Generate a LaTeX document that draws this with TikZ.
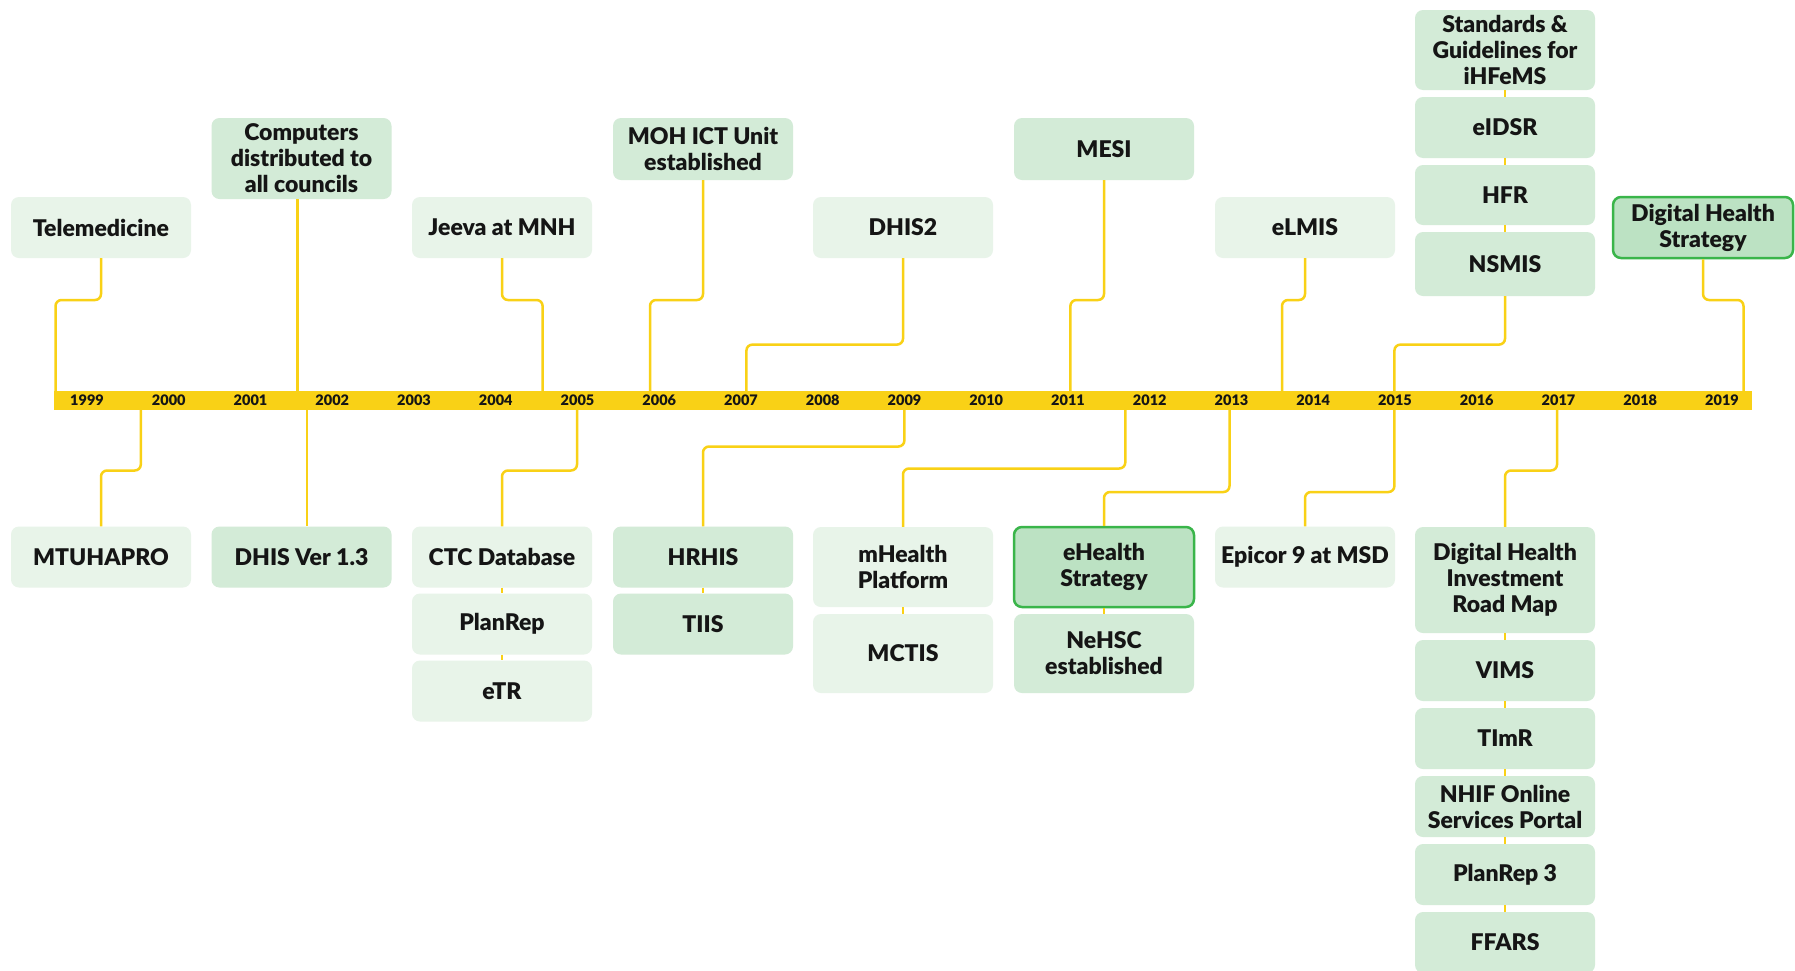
\documentclass[tikz,border=0pt]{standalone}
\usepackage{fontspec}
\setmainfont{Lato}[BoldFont={Lato Black}]
\usepackage{tikz}
\usepackage{xcolor}
\definecolor{barYellow}{HTML}{F9D116}
\definecolor{lightGreen}{HTML}{E8F4E9}
\definecolor{midGreen}{HTML}{D3EBD7}
\definecolor{keyGreen}{HTML}{BCE2C3}
\definecolor{keyEdge}{HTML}{3AB54A}
\definecolor{inkBlack}{HTML}{151515}

\begin{document}
\begin{tikzpicture}[x=1pt,y=-1pt,
  event/.style={rectangle,rounded corners=8pt,minimum width=180pt,align=center,inner sep=2pt,
    text=inkBlack,font=\fontsize{23}{26}\selectfont\bfseries},
  light node/.style={event,fill=lightGreen},
  mid node/.style={event,fill=midGreen},
  key node/.style={event,fill=keyGreen,draw=keyEdge,line width=2.5pt},
  link/.style={draw=barYellow,line width=2.5pt,rounded corners=6pt},
  year/.style={font=\fontsize{14.5}{16}\selectfont\bfseries,text=inkBlack}]

  \useasboundingbox[fill=white] (0,0) rectangle (1795,970);

  \node[light node,minimum height=61pt] (tele) at (101,227.5) {Telemedicine};
  \node[mid node,minimum height=81pt] (comp) at (301.5,158.5) {Computers\\distributed to\\all councils};
  \node[light node,minimum height=61pt] (jeeva) at (502,227.5) {Jeeva at MNH};
  \node[mid node,minimum height=62pt] (moh) at (703,149) {MOH ICT Unit\\established};
  \node[light node,minimum height=61pt] (dhis2) at (903,227.5) {DHIS2};
  \node[mid node,minimum height=62pt] (mesi) at (1104,149) {MESI};
  \node[light node,minimum height=61pt] (elmis) at (1305,227.5) {eLMIS};
  \node[mid node,minimum height=80pt] (stds) at (1505,50) {Standards \&\\Guidelines for\\iHFeMS};
  \node[mid node,minimum height=61pt] (eidsr) at (1505,127.5) {eIDSR};
  \node[mid node,minimum height=60pt] (hfr) at (1505,195) {HFR};
  \node[mid node,minimum height=64pt] (nsmis) at (1505,264) {NSMIS};
  \node[key node,minimum height=61pt] (dhs) at (1703,227.5) {Digital Health\\Strategy};

  \node[light node,minimum height=61pt] (mtuha) at (101,557) {MTUHAPRO};
  \node[mid node,minimum height=61pt] (dhis13) at (301.5,557) {DHIS Ver 1.3};
  \node[light node,minimum height=61pt] (ctc) at (502,557) {CTC Database};
  \node[light node,minimum height=61pt] (planrep) at (502,624) {PlanRep};
  \node[light node,minimum height=61pt] (etr) at (502,691) {eTR};
  \node[mid node,minimum height=61pt] (hrhis) at (703,557) {HRHIS};
  \node[mid node,minimum height=61pt] (tiis) at (703,624) {TIIS};
  \node[light node,minimum height=80pt] (mhealth) at (903,567) {mHealth\\Platform};
  \node[light node,minimum height=79pt] (mctis) at (903,653.5) {MCTIS};
  \node[key node,minimum height=80pt] (ehealth) at (1104,567) {eHealth\\Strategy};
  \node[mid node,minimum height=79pt] (nehsc) at (1104,653.5) {NeHSC\\established};
  \node[light node,minimum height=61pt] (epicor) at (1305,557) {Epicor 9 at MSD};
  \node[mid node,minimum height=106pt] (dhir) at (1505,580) {Digital Health\\Investment\\Road Map};
  \node[mid node,minimum height=61pt] (vims) at (1505,670.5) {VIMS};
  \node[mid node,minimum height=61pt] (timr) at (1505,738.5) {TImR};
  \node[mid node,minimum height=61pt] (nhif) at (1505,806.5) {NHIF Online\\Services Portal};
  \node[mid node,minimum height=61pt] (plan3) at (1505,874.5) {PlanRep 3};
  \node[mid node,minimum height=61pt] (ffars) at (1505,942.5) {FFARS};

  \coordinate (a1) at (55.5,391);
  \coordinate (a2) at (297.6,391);
  \coordinate (a3) at (542.6,391);
  \coordinate (a4) at (650,391);
  \coordinate (a5) at (746.4,391);
  \coordinate (a6) at (1070.4,391);
  \coordinate (a7) at (1282,391);
  \coordinate (a8) at (1394.4,391);
  \coordinate (a9) at (1743.5,391);
  \coordinate (b1) at (140.8,410);
  \coordinate (b2) at (306.8,410);
  \coordinate (b3) at (577,410);
  \coordinate (b4) at (904.4,410);
  \coordinate (b5) at (1125.3,410);
  \coordinate (b6) at (1229.5,410);
  \coordinate (b7) at (1394.4,410);
  \coordinate (b8) at (1557,410);

  \draw[link] (tele.south) -- (tele.south |- 0,300) -| (a1);
  \draw[link] (comp.south -| a2) -- (a2);
  \draw[link] (jeeva.south) -- (jeeva.south |- 0,300) -| (a3);
  \draw[link] (moh.south) -- (moh.south |- 0,300) -| (a4);
  \draw[link] (dhis2.south) -- (dhis2.south |- 0,344.6) -| (a5);
  \draw[link] (mesi.south) -- (mesi.south |- 0,300) -| (a6);
  \draw[link] (elmis.south) -- (elmis.south |- 0,300) -| (a7);
  \draw[link] (nsmis.south) -- (nsmis.south |- 0,344.6) -| (a8);
  \draw[link] (dhs.south) -- (dhs.south |- 0,300) -| (a9);

  \draw[link] (b1) -- (b1 |- 0,470.5) -| (mtuha.north);
  \draw[link] (b2) -- (b2 |- dhis13.north);
  \draw[link] (b3) -- (b3 |- 0,470.5) -| (ctc.north);
  \draw[link] (b4) -- (b4 |- 0,446.5) -| (hrhis.north);
  \draw[link] (b5) -- (b5 |- 0,468.5) -| (mhealth.north);
  \draw[link] (b6) -- (b6 |- 0,492) -| (ehealth.north);
  \draw[link] (b7) -- (b7 |- 0,492) -| (epicor.north);
  \draw[link] (b8) -- (b8 |- 0,470.5) -| (dhir.north);

  \path[link] (stds) edge (eidsr) (eidsr) edge (hfr) (hfr) edge (nsmis)
    (ctc) edge (planrep) (planrep) edge (etr) (hrhis) edge (tiis)
    (mhealth) edge (mctis) (ehealth) edge (nehsc)
    (dhir) edge (vims) (vims) edge (timr) (timr) edge (nhif)
    (nhif) edge (plan3) (plan3) edge (ffars);

  \fill[barYellow] (54,391) rectangle (1752,410);
  \foreach \yr [count=\k from 0] in {1999,...,2019}
    \node[year] (y\yr) at (87+81.75*\k,400.5) {\yr};
\end{tikzpicture}
\end{document}
